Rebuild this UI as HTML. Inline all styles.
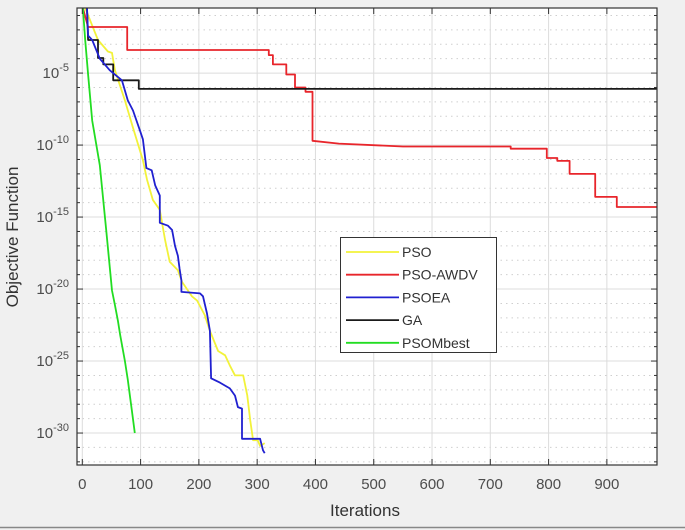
<!DOCTYPE html>
<html><head><meta charset="utf-8"><style>
body{margin:0;background:#f0f0f0;}
svg{display:block;font-family:"Liberation Sans",sans-serif;}
</style></head><body>
<svg id="chart" width="685" height="530">
<rect x="0" y="0" width="685" height="530" fill="#f0f0f0"/>
<line x1="0" y1="527.5" x2="685" y2="527.5" stroke="#888" stroke-width="1.5"/>
<rect x="77" y="8" width="580" height="457" fill="#fff"/>
<g id="grid"></g>
<g id="series"></g>
<g id="axes"></g>
<text x="365" y="516" font-size="17" fill="#333" text-anchor="middle">Iterations</text>
<text transform="translate(18,237) rotate(-90)" font-size="17" fill="#333" text-anchor="middle">Objective Function</text>
<g id="legend">
<rect x="340.5" y="237.5" width="156" height="115" fill="#fff" stroke="#333" stroke-width="1"/>
</g>
</svg>
<script>
const seriesNames = ["PSO","PSO-AWDV","PSOEA","GA","PSOMbest"];
const seriesColors = ["#f2f23a","#e8252b","#2020d0","#1a1a1a","#22dd22"];
const psoIter = [5,17,27,44,51,53,56,73,87,104,111,121,133,142,150,164,171,188,197,210,219,233,245,253,262,276,283,288,293,301,305,313];
const psoLog = [0,-1.7,-2.7,-3.5,-3.6,-4.1,-4.8,-6.9,-8.8,-11.05,-12.4,-13.8,-14.5,-16.6,-18.1,-18.7,-19.5,-20.5,-20.8,-21.8,-22.9,-24.3,-24.6,-25.3,-26.0,-26.0,-27.4,-29.1,-30.5,-30.5,-30.9,-30.7];
const awdvIter = [1,10,77,77,320,320,327,327,350,350,365,365,383,383,395,395,440,550,735,735,797,797,815,815,836,836,880,880,917,917,986];
const awdvLog = [0,-1.8,-1.8,-3.4,-3.4,-3.75,-3.75,-4.4,-4.4,-5.1,-5.1,-6.0,-6.0,-6.3,-6.3,-9.7,-9.9,-10.1,-10.1,-10.25,-10.25,-10.9,-10.9,-11.1,-11.1,-12.0,-12.0,-13.6,-13.6,-14.3,-14.3];
const psoeaIter = [8,10,17,30,47,68,78,87,99,104,110,119,125,133,133,147,154,159,164,167,170,170,202,207,214,219,221,236,253,262,267,274,274,305,310,313];
const psoeaLog = [0,-2.4,-2.7,-4.0,-4.8,-5.5,-6.9,-7.6,-9.0,-9.6,-11.6,-11.75,-12.8,-13.5,-15.4,-15.6,-15.9,-17.0,-17.7,-18.6,-19.4,-20.2,-20.3,-20.5,-21.7,-22.9,-26.2,-26.5,-26.9,-27.4,-28.2,-28.3,-30.4,-30.4,-31.2,-31.4];
const gaIter = [8,10,27,27,36,36,53,53,97,97,986];
const gaLog = [0,-2.7,-2.7,-3.95,-3.95,-4.4,-4.4,-5.5,-5.5,-6.1,-6.1];
const mbestIter = [1,5,10,17,30,41,51,56,61,65,73,78,85,90];
const mbestLog = [-0.5,-2.7,-5.1,-8.3,-11.4,-15.9,-20.1,-21.1,-22.2,-23.2,-25.0,-26.3,-28.4,-30.0];
const xTicks = [0,100,200,300,400,500,600,700,800,900];
const yMajorTicks = [-5,-10,-15,-20,-25,-30];
const yMinorTicks = [-1,-2,-3,-4,-5,-6,-7,-8,-9,-10,-11,-12,-13,-14,-15,-16,-17,-18,-19,-20,-21,-22,-23,-24,-25,-26,-27,-28,-29,-30,-31,-32];

const L=77,R=657,T=8,B=465;
const xMin=-9.1,xMax=986,yTop=-0.48,yBot=-32.22;
function xs(v){return L+(v-xMin)/(xMax-xMin)*(R-L);}
function ys(v){return T+(yTop-v)/(yTop-yBot)*(B-T);}
const NS="http://www.w3.org/2000/svg";
function mk(tag,attrs,parent){const e=document.createElementNS(NS,tag);for(const k in attrs)e.setAttribute(k,attrs[k]);parent.appendChild(e);return e;}
const grid=document.getElementById('grid'),axes=document.getElementById('axes'),ser=document.getElementById('series');

yMinorTicks.forEach(t=>{
  const y=ys(t);
  const major=yMajorTicks.includes(t);
  const g=mk('line',{x1:L,x2:R,y1:y,y2:y,stroke:major?'#dcdcdc':'#cfcfcf','stroke-width':1,'stroke-dasharray':major?'':'1.5,4'},grid);
  
  
  const len=major?6:3;
  const a=mk('line',{x1:L,x2:L+len,y1:y,y2:y,stroke:'#333','stroke-width':1},axes);
  
  
  const b=mk('line',{x1:R,x2:R-len,y1:y,y2:y,stroke:'#333','stroke-width':1},axes);
  
  
});
yMajorTicks.forEach(t=>{
  const y=ys(t);
  const tx=mk('text',{x:L-8,y:y+5,'font-size':15,fill:'#4d4d4d','text-anchor':'end'},axes);
  
  
  const s1=mk('tspan',{},tx);s1.textContent='10';
  const s2=mk('tspan',{dy:-7,'font-size':11},tx);s2.textContent=String(t);
});
xTicks.forEach(t=>{
  const x=xs(t);
  const g=mk('line',{x1:x,x2:x,y1:T,y2:B,stroke:'#dcdcdc','stroke-width':1},grid);
  
  
  const a=mk('line',{x1:x,x2:x,y1:B,y2:B-6,stroke:'#333','stroke-width':1},axes);
  
  
  const b=mk('line',{x1:x,x2:x,y1:T,y2:T+6,stroke:'#333','stroke-width':1},axes);
  
  
  const tx=mk('text',{x:x,y:B+24,'font-size':15,fill:'#4d4d4d','text-anchor':'middle'},axes);
  tx.textContent=String(t);
  
  
});
const box=mk('rect',{x:L,y:T,width:R-L,height:B-T,fill:'none',stroke:'#333','stroke-width':1.2},axes);



const allIters=[psoIter,awdvIter,psoeaIter,gaIter,mbestIter];
const allLogs=[psoLog,awdvLog,psoeaLog,gaLog,mbestLog];
const order=[0,1,3,2,4];
order.forEach(i=>{
  const d=allIters[i].map((v,k)=>(k?'L':'M')+xs(v).toFixed(1)+','+Math.max(T,ys(allLogs[i][k])).toFixed(1)).join('');
  const p=mk('path',{d:d,fill:'none',stroke:seriesColors[i],'stroke-width':1.8,'stroke-linejoin':'round'},ser);
  
  
});
const leg=document.getElementById('legend');
seriesNames.forEach((n,i)=>{
  const y=252+i*22.7;
  const ln=mk('line',{x1:346,x2:399,y1:y,y2:y,stroke:seriesColors[i],'stroke-width':1.8},leg);
  
  
  const tx=mk('text',{x:402,y:y+5,'font-size':14,fill:'#333'},leg);
  tx.textContent=n;
  
  
});
</script>
</body></html>
